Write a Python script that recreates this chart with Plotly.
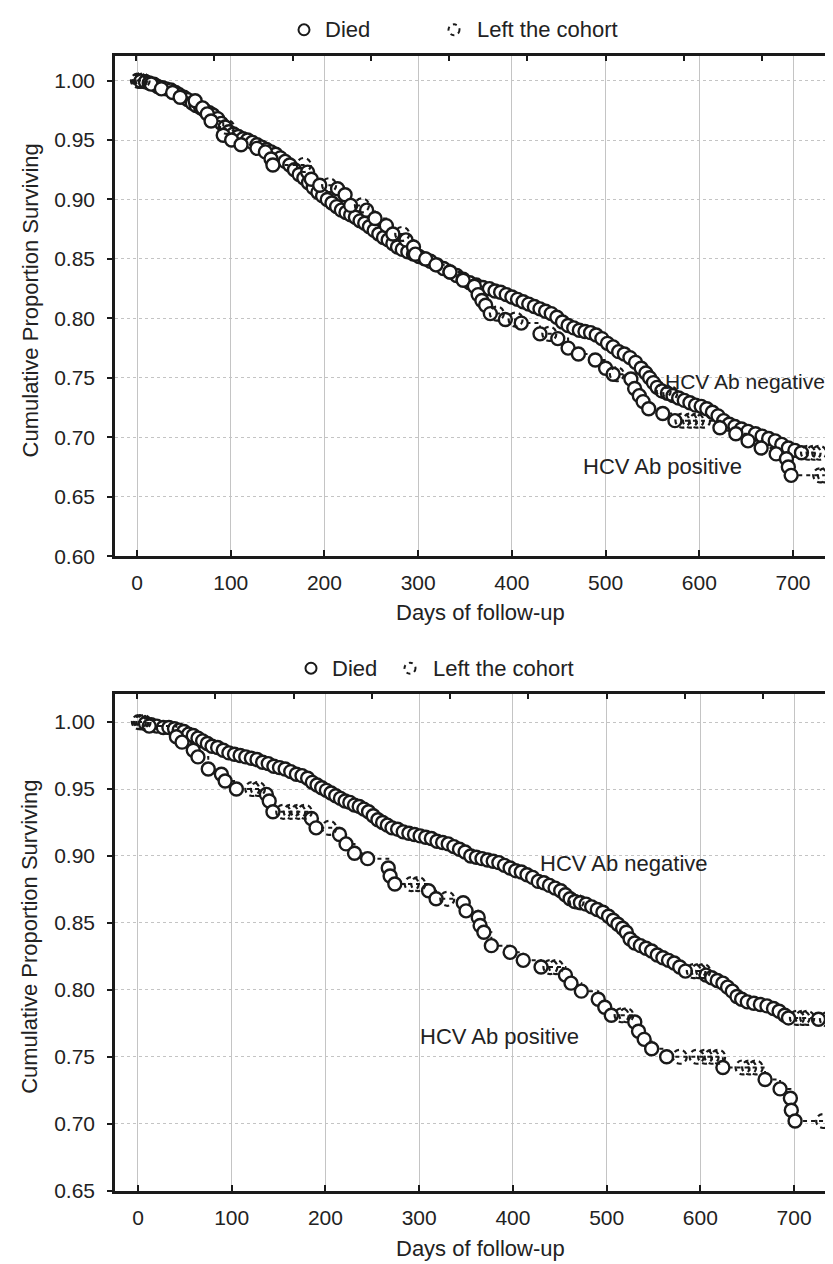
import plotly.graph_objects as go

# ---------------- panel A (top) ----------------
a_neg_died_days = [4, 9, 13, 18, 22, 27, 31, 36, 41, 45, 50, 54, 59, 63, 68, 72, 77, 81, 86, 90,
                   94, 98, 103, 108, 113, 118, 123, 128, 133, 138, 143, 148, 153, 158, 163, 168, 173, 178, 183, 188,
                   193, 198, 203, 208, 213, 218, 223, 228, 233, 238, 243, 248, 253, 258, 263, 268, 273, 278, 283, 289,
                   295, 301, 307, 313, 320, 327, 334, 341, 348, 355, 362, 369, 376, 382, 388, 394, 400, 406, 412, 418,
                   424, 430, 436, 442, 448, 454, 460, 466, 472, 478, 484, 490, 496, 502, 508, 514, 520, 526, 532, 538,
                   543, 547, 551, 555, 560, 566, 572, 578, 584, 590, 596, 602, 608, 614, 620, 626, 632, 638, 645, 652,
                   660, 667, 674, 681, 688, 695, 702, 709]
a_neg_died_surv = [0.9995, 0.999, 0.998, 0.997, 0.995, 0.994, 0.993, 0.992, 0.990, 0.988,
                   0.986, 0.984, 0.981, 0.979, 0.977, 0.975, 0.973, 0.971, 0.968, 0.964,
                   0.961, 0.957, 0.955, 0.953, 0.951, 0.950, 0.948, 0.946, 0.944, 0.942,
                   0.940, 0.938, 0.935, 0.932, 0.929, 0.925, 0.921, 0.918, 0.914, 0.910,
                   0.906, 0.903, 0.900, 0.897, 0.894, 0.891, 0.889, 0.887, 0.885, 0.882,
                   0.880, 0.877, 0.874, 0.871, 0.868, 0.866, 0.863, 0.860, 0.858, 0.856,
                   0.854, 0.852, 0.850, 0.848, 0.845, 0.842, 0.839, 0.836, 0.833, 0.830,
                   0.828, 0.826, 0.825, 0.823, 0.822, 0.820, 0.818, 0.816, 0.814, 0.812,
                   0.810, 0.808, 0.806, 0.804, 0.801, 0.797, 0.794, 0.792, 0.790, 0.789,
                   0.788, 0.786, 0.783, 0.779, 0.776, 0.772, 0.770, 0.767, 0.763, 0.758,
                   0.754, 0.750, 0.746, 0.742, 0.739, 0.737, 0.735, 0.733, 0.731, 0.729,
                   0.727, 0.726, 0.724, 0.721, 0.718, 0.714, 0.711, 0.709, 0.707, 0.705,
                   0.703, 0.701, 0.699, 0.697, 0.694, 0.691, 0.689, 0.687]
a_neg_cens_days = [1, 3, 6, 96, 562, 569, 716, 722, 728]
a_neg_cens_surv = [1.0, 1.0, 1.0, 0.961, 0.739, 0.737, 0.687, 0.687, 0.687]

a_pos_died_days = [15, 26, 38, 46, 62, 70, 75, 79, 92, 101, 111, 128, 137, 143, 145, 182, 186, 195, 214, 222,
                   228, 245, 254, 266, 273, 287, 295, 297, 308, 319, 334, 348, 360, 364, 368, 372, 377, 393, 410, 430,
                   449, 460, 471, 489, 500, 508, 527, 531, 536, 540, 546, 561, 574, 622, 639, 652, 666, 682, 693, 695,
                   698]
a_pos_died_surv = [0.997, 0.993, 0.990, 0.986, 0.983, 0.977, 0.972, 0.966, 0.954, 0.950,
                   0.946, 0.943, 0.940, 0.934, 0.929, 0.923, 0.917, 0.912, 0.909, 0.904,
                   0.895, 0.891, 0.884, 0.878, 0.871, 0.866, 0.860, 0.854, 0.850, 0.845,
                   0.839, 0.832, 0.827, 0.820, 0.815, 0.811, 0.804, 0.799, 0.796, 0.787,
                   0.783, 0.775, 0.770, 0.765, 0.758, 0.753, 0.749, 0.741, 0.735, 0.730,
                   0.724, 0.720, 0.714, 0.708, 0.703, 0.697, 0.691, 0.686, 0.682, 0.675,
                   0.668]
a_pos_cens_days = [3, 178, 205, 240, 283, 384, 404, 440, 512, 582, 590, 597, 604, 729, 734]
a_pos_cens_surv = [1.0, 0.929, 0.912, 0.895, 0.871, 0.804, 0.799, 0.787, 0.753, 0.714, 0.714, 0.714, 0.714,
                   0.668, 0.668]

# ---------------- panel B (bottom) ----------------
b_neg_died_days = [8, 14, 20, 27, 33, 39, 44, 49, 54, 59, 64, 69, 74, 79, 85, 91, 97, 103, 109, 115,
                   121, 127, 133, 139, 145, 151, 157, 163, 169, 175, 181, 186, 191, 196, 201, 206, 211, 216, 221, 226,
                   231, 236, 241, 246, 251, 256, 261, 266, 271, 277, 283, 289, 295, 301, 307, 313, 319, 325, 331, 337,
                   343, 349, 355, 361, 367, 373, 379, 385, 391, 397, 403, 409, 415, 421, 427, 433, 439, 445, 451, 456,
                   461, 466, 472, 478, 484, 490, 496, 502, 507, 512, 517, 521, 525, 530, 536, 542, 548, 554, 560, 566,
                   572, 578, 584, 606, 612, 618, 624, 629, 634, 639, 644, 650, 657, 664, 671, 678, 684, 690, 694, 726]
b_neg_died_surv = [0.999, 0.998, 0.997, 0.996, 0.996, 0.995, 0.994, 0.993, 0.991, 0.990,
                   0.988, 0.986, 0.984, 0.982, 0.981, 0.979, 0.977, 0.976, 0.975, 0.974,
                   0.973, 0.972, 0.970, 0.969, 0.967, 0.966, 0.965, 0.963, 0.961, 0.960,
                   0.958, 0.955, 0.953, 0.951, 0.949, 0.947, 0.945, 0.943, 0.941, 0.940,
                   0.938, 0.937, 0.935, 0.933, 0.930, 0.927, 0.925, 0.923, 0.921, 0.920,
                   0.918, 0.917, 0.916, 0.915, 0.914, 0.913, 0.911, 0.910, 0.909, 0.907,
                   0.905, 0.903, 0.900, 0.899, 0.898, 0.897, 0.896, 0.895, 0.893, 0.891,
                   0.889, 0.888, 0.886, 0.884, 0.881, 0.880, 0.878, 0.876, 0.874, 0.871,
                   0.868, 0.866, 0.865, 0.864, 0.862, 0.860, 0.858, 0.855, 0.852, 0.849,
                   0.846, 0.843, 0.838, 0.835, 0.833, 0.831, 0.829, 0.826, 0.824, 0.822,
                   0.820, 0.817, 0.814, 0.811, 0.809, 0.807, 0.805, 0.802, 0.799, 0.795,
                   0.793, 0.791, 0.790, 0.789, 0.788, 0.786, 0.784, 0.781, 0.779, 0.778]
b_neg_cens_days = [1, 4, 6, 468, 593, 598, 603, 703, 709, 714, 735]
b_neg_cens_surv = [1.0, 1.0, 1.0, 0.866, 0.814, 0.814, 0.814, 0.779, 0.779, 0.779, 0.778]

b_pos_died_days = [12, 41, 47, 59, 64, 75, 89, 93, 105, 137, 140, 144, 185, 190, 215, 222, 231, 245, 267, 269,
                   274, 310, 318, 347, 350, 363, 365, 369, 377, 397, 411, 430, 456, 462, 473, 491, 498, 505, 530, 534,
                   540, 548, 564, 624, 669, 685, 696, 697, 701]
b_pos_died_surv = [0.997, 0.989, 0.985, 0.979, 0.974, 0.965, 0.961, 0.956, 0.950, 0.946,
                   0.941, 0.933, 0.928, 0.921, 0.916, 0.909, 0.902, 0.898, 0.891, 0.885,
                   0.879, 0.874, 0.868, 0.865, 0.859, 0.854, 0.848, 0.843, 0.833, 0.828,
                   0.822, 0.817, 0.811, 0.805, 0.799, 0.793, 0.787, 0.781, 0.776, 0.769,
                   0.763, 0.756, 0.750, 0.742, 0.733, 0.726, 0.719, 0.710, 0.702]
b_pos_cens_days = [3, 122, 128, 155, 163, 171, 178, 204, 292, 299, 330, 440, 446, 516, 521, 578, 596, 605, 612,
                   619, 645, 652, 659, 731]
b_pos_cens_surv = [1.0, 0.950, 0.950, 0.933, 0.933, 0.933, 0.933, 0.921, 0.879, 0.879, 0.868, 0.817, 0.817,
                   0.781, 0.781, 0.750, 0.750, 0.750, 0.750, 0.750, 0.742, 0.742, 0.742, 0.702]

x_ticks = [0, 100, 200, 300, 400, 500, 600, 700]
a_y_ticks = [0.60, 0.65, 0.70, 0.75, 0.80, 0.85, 0.90, 0.95, 1.00]
b_y_ticks = [0.65, 0.70, 0.75, 0.80, 0.85, 0.90, 0.95, 1.00]

W, H = 833, 1264
INK = '#1a1a1a'
FONT = 'Liberation Sans, Arial, sans-serif'


def px(x):
    return x / W


def py(y):
    return 1 - y / H


fig = go.Figure()
shapes = []


def add_curve(died_d, died_s, cens_d, cens_s, xa, ya):
    pts = sorted([(0, 1.0)] + list(zip(died_d, died_s)) + list(zip(cens_d, cens_s)))
    fig.add_trace(go.Scatter(x=[p[0] for p in pts], y=[p[1] for p in pts], mode='lines',
                             line=dict(color=INK, width=2, dash='4px,4px', shape='hv'),
                             xaxis=xa, yaxis=ya, showlegend=False, hoverinfo='skip'))
    fig.add_trace(go.Scatter(x=died_d, y=died_s, mode='markers',
                             marker=dict(symbol='circle', size=13, color='white', line=dict(color=INK, width=2.4)),
                             xaxis=xa, yaxis=ya, showlegend=False))
    for d, s in zip(cens_d, cens_s):
        shapes.append(dict(type='circle', xref=xa, yref=ya, xsizemode='pixel', ysizemode='pixel',
                           xanchor=d, yanchor=s, x0=-7, x1=7, y0=-7, y1=7,
                           line=dict(color=INK, width=2.2, dash='5px,4px'), layer='above'))


add_curve(a_neg_died_days, a_neg_died_surv, a_neg_cens_days, a_neg_cens_surv, 'x', 'y')
add_curve(a_pos_died_days, a_pos_died_surv, a_pos_cens_days, a_pos_cens_surv, 'x', 'y')
add_curve(b_neg_died_days, b_neg_died_surv, b_neg_cens_days, b_neg_cens_surv, 'x2', 'y2')
add_curve(b_pos_died_days, b_pos_died_surv, b_pos_cens_days, b_pos_cens_surv, 'x2', 'y2')

# empty traces so the secondary tick axes exist
fig.add_trace(go.Scatter(x=[None], y=[None], xaxis='x3', yaxis='y3', showlegend=False))
fig.add_trace(go.Scatter(x=[None], y=[None], xaxis='x4', yaxis='y4', showlegend=False))

a_range_x = [-23.5, 748]
b_range_x = [-24.5, 750]
a_range_y = [0.60, 1.021]
b_range_y = [0.65, 1.021]

base_x = dict(tickvals=x_ticks, ticks='inside', ticklen=6, tickwidth=2, tickcolor=INK,
              showline=True, linewidth=2.5, linecolor=INK, mirror=True,
              showgrid=True, gridcolor='#c4c4c4', gridwidth=1, zeroline=False,
              tickfont=dict(size=21, color='#222'), ticklabelstandoff=6)
base_y = dict(ticks='outside', ticklen=5, tickwidth=2, tickcolor=INK,
              showline=True, linewidth=2.5, linecolor=INK,
              showgrid=True, gridcolor='#c4c4c4', gridwidth=1, griddash='dot', zeroline=False,
              tickfont=dict(size=21, color='#222'), ticklabelstandoff=8)
sec = dict(ticks='inside', ticklen=5, tickwidth=2, tickcolor=INK, showticklabels=False,
           showgrid=False, showline=False, zeroline=False)

fig.update_layout(
    width=W, height=H,
    margin=dict(l=0, r=0, t=0, b=0),
    paper_bgcolor='white', plot_bgcolor='white',
    font=dict(family=FONT, color='#222', size=21),
    xaxis=dict(base_x, domain=[px(107), px(830)], range=a_range_x, anchor='y'),
    yaxis=dict(base_y, domain=[py(553), py(48)], range=a_range_y, anchor='x', mirror=True,
               tickvals=a_y_ticks, ticktext=['%.2f' % v for v in a_y_ticks]),
    xaxis2=dict(base_x, domain=[px(107), 1.0], range=b_range_x, anchor='y2'),
    yaxis2=dict(base_y, domain=[py(1193), py(692)], range=b_range_y, anchor='x2',
                tickvals=b_y_ticks, ticktext=['%.2f' % v for v in b_y_ticks]),
    xaxis3=dict(sec, overlaying='x', anchor='y3', side='top', range=a_range_x, tick0=-1, dtick=83.5),
    yaxis3=dict(sec, overlaying='y', anchor='x3', side='right', range=a_range_y, tick0=0.60, dtick=0.0466),
    xaxis4=dict(sec, overlaying='x2', anchor='y4', side='top', range=b_range_x, tick0=-1, dtick=83.5),
    yaxis4=dict(sec, overlaying='y2', anchor='x4', side='right', range=b_range_y, tick0=0.65, dtick=0.0462),
)

annotations = []


def text(x, y, s, anchor='left', angle=0, size=22):
    annotations.append(dict(x=px(x), y=py(y), xref='paper', yref='paper', text=s, showarrow=False,
                            xanchor=anchor, yanchor='middle', textangle=angle,
                            font=dict(family=FONT, size=size, color='#222')))


def legend(y, cx_died, cx_left):
    shapes.append(dict(type='circle', xref='paper', yref='paper',
                       x0=px(cx_died - 5.5), x1=px(cx_died + 5.5), y0=py(y + 5.5), y1=py(y - 5.5),
                       line=dict(color=INK, width=2)))
    shapes.append(dict(type='circle', xref='paper', yref='paper',
                       x0=px(cx_left - 5.5), x1=px(cx_left + 5.5), y0=py(y + 5.5), y1=py(y - 5.5),
                       line=dict(color=INK, width=2, dash='4px,4px')))
    text(cx_died + 19, y, 'Died')
    text(cx_left + 21, y, 'Left the cohort')


legend(22, 296, 446)
legend(666, 303, 402)

text(472, 610, 'Days of follow-up', 'center')
text(472, 1251, 'Days of follow-up', 'center')
text(22, 295, 'Cumulative Proportion Surviving', 'center', -90)
text(22, 937, 'Cumulative Proportion Surviving', 'center', -90)

text(655, 377, 'HCV Ab negative', size=21)
text(573, 463, 'HCV Ab positive')
text(530, 863, 'HCV Ab negative')
text(410, 1038, 'HCV Ab positive')

fig.update_layout(shapes=shapes, annotations=annotations)

fig.write_html("out.html")
